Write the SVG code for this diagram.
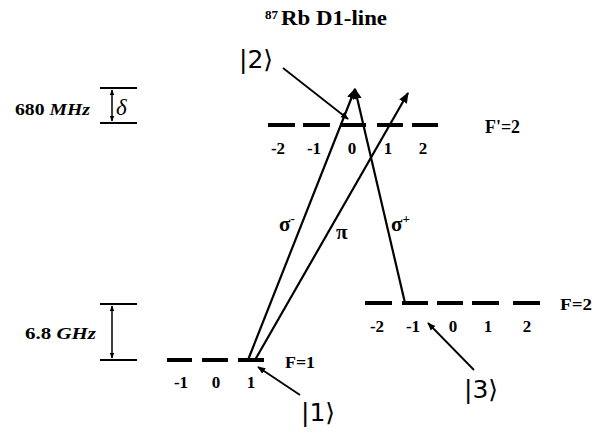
<svg xmlns="http://www.w3.org/2000/svg" width="608" height="434" viewBox="0 0 608 434">
<defs>
<marker id="ah" viewBox="0 0 10 10" refX="9" refY="5" markerWidth="8" markerHeight="8" markerUnits="userSpaceOnUse" orient="auto"><path d="M0,1 L10,5 L0,9 z" fill="#000"/></marker>
<marker id="ahb" viewBox="0 0 10 10" refX="9" refY="5" markerWidth="11" markerHeight="11" markerUnits="userSpaceOnUse" orient="auto"><path d="M0,1 L10,5 L0,9 z" fill="#000"/></marker>
<marker id="ahs" viewBox="0 0 10 10" refX="9" refY="5" markerWidth="6" markerHeight="6" markerUnits="userSpaceOnUse" orient="auto-start-reverse"><path d="M0,1 L10,5 L0,9 z" fill="#000"/></marker>
</defs>
<style>
text{font-family:"Liberation Serif","Times New Roman",serif;fill:#000}
.b{font-weight:bold}
.lv{stroke:#000;stroke-width:4;fill:none}
.tr{stroke:#000;stroke-width:2.2;fill:none}
.pt{stroke:#000;stroke-width:1.8;fill:none}
.br{stroke:#000;stroke-width:2;fill:none}
.m{font-size:17px;font-weight:bold;text-anchor:middle}
.ket{font-size:25px;font-family:"DejaVu Sans","Liberation Sans",sans-serif}
.gr{font-size:21px;font-weight:bold}
</style>
<rect width="608" height="434" fill="#fff"/>
<g id="title">
<text x="265" y="19" class="b" font-size="13">87</text>
<text x="281" y="25" class="b" font-size="21" textLength="106" lengthAdjust="spacingAndGlyphs">Rb D1-line</text>
</g>
<g id="scale680">
<line class="br" x1="100" y1="88" x2="137" y2="88"/>
<line class="br" x1="100" y1="123" x2="137" y2="123"/>
<line class="pt" x1="112" y1="90" x2="112" y2="121" style="stroke-width:1.5" marker-start="url(#ahs)" marker-end="url(#ahs)"/>
<text x="15" y="115" font-size="17" class="b" textLength="75" lengthAdjust="spacingAndGlyphs">680 <tspan font-style="italic">MHz</tspan></text>
<text x="116" y="115" font-size="23" font-style="italic">δ</text>
</g>
<g id="scale68">
<line class="br" x1="100" y1="304" x2="137" y2="304"/>
<line class="br" x1="100" y1="360" x2="137" y2="360"/>
<line class="pt" x1="112" y1="306" x2="112" y2="358" style="stroke-width:1.5" marker-start="url(#ahs)" marker-end="url(#ahs)"/>
<text x="25" y="339" font-size="17" class="b" textLength="71" lengthAdjust="spacingAndGlyphs">6.8 <tspan font-style="italic">GHz</tspan></text>
</g>
<g id="Fp2">
<path class="lv" d="M268,125H295M303,125H330M340,125H366M377,125H403M412,125H438"/>
<text class="m" x="278" y="154">-2</text>
<text class="m" x="314" y="154">-1</text>
<text class="m" x="352" y="154">0</text>
<text class="m" x="388" y="154">1</text>
<text class="m" x="423" y="154">2</text>
<text x="485" y="133" font-size="19" class="b" textLength="35" lengthAdjust="spacingAndGlyphs">F'=2</text>
</g>
<g id="F1">
<path class="lv" d="M167,360H192M202,360H228M238,360H264"/>
<text class="m" x="181" y="388">-1</text>
<text class="m" x="216" y="388">0</text>
<text class="m" x="251" y="388">1</text>
<text x="285" y="368" font-size="17" class="b" textLength="30" lengthAdjust="spacingAndGlyphs">F=1</text>
</g>
<g id="F2">
<path class="lv" d="M365,303H392M402,303H428M437,303H463M472,303H499M513,303H540"/>
<text class="m" x="377" y="332">-2</text>
<text class="m" x="413" y="332">-1</text>
<text class="m" x="453" y="332">0</text>
<text class="m" x="488" y="332">1</text>
<text class="m" x="527" y="332">2</text>
<text x="560" y="310" font-size="17" class="b" textLength="32" lengthAdjust="spacingAndGlyphs">F=2</text>
</g>
<g id="ket2"><text class="ket" x="239" y="68">|2⟩</text></g>
<g id="ket1"><text class="ket" x="301" y="421">|1⟩</text></g>
<g id="ket3"><text class="ket" x="464" y="398">|3⟩</text></g>
<g id="connectors">
<line class="tr" x1="248" y1="360" x2="355" y2="89" marker-end="url(#ahb)"/>
<line class="tr" x1="405" y1="303" x2="355" y2="89" marker-end="url(#ahb)"/>
<line class="tr" x1="255" y1="360" x2="408" y2="93" marker-end="url(#ahb)"/>
<line class="pt" x1="283" y1="68" x2="348" y2="119" marker-end="url(#ah)"/>
<line class="pt" x1="300" y1="395" x2="258" y2="367" marker-end="url(#ah)"/>
<line class="pt" x1="474" y1="370" x2="428" y2="323" marker-end="url(#ah)"/>
</g>
<g id="labels">
<text x="279" y="231" class="gr">σ<tspan font-size="13" dy="-8">-</tspan></text>
<text x="391" y="231" class="gr">σ<tspan font-size="13" dy="-8">+</tspan></text>
<text x="336" y="239" class="gr">π</text>
</g>
</svg>
